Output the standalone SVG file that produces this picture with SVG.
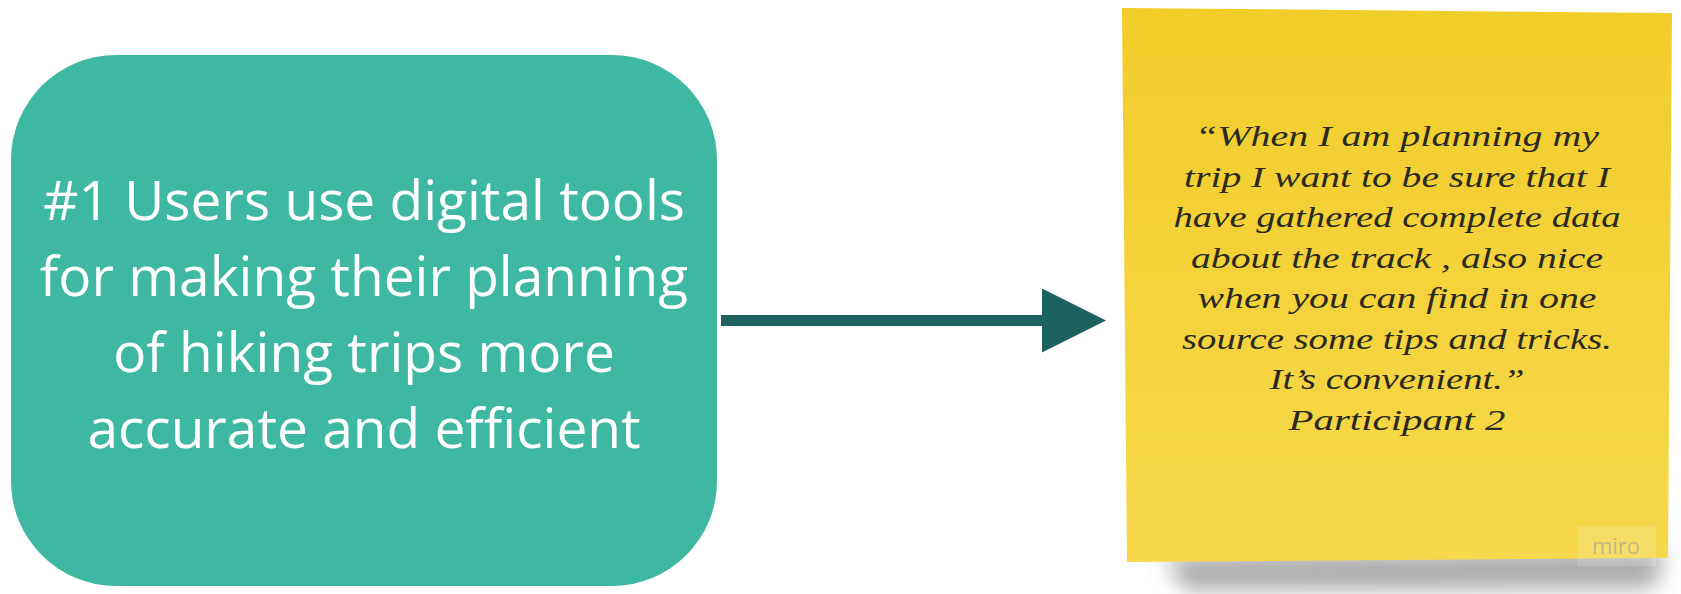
<svg xmlns="http://www.w3.org/2000/svg" width="1681" height="594" viewBox="0 0 1681 594">
<style>
.main{font-family:"Open Sans","Noto Sans",sans-serif;font-size:55px;fill:#ffffff;text-anchor:middle}
.hand{font-family:"Segoe Print","Liberation Serif",serif;font-style:italic;font-size:30px;fill:#2a2a22;text-anchor:middle}
.miro{font-family:"Open Sans","Noto Sans",sans-serif;font-size:22px;fill:#9c9c9c;fill-opacity:0.6;text-anchor:middle}
</style>
<defs>
<linearGradient id="sticky" x1="0" y1="0" x2="0" y2="1">
<stop offset="0" stop-color="#F1CD2A"/>
<stop offset="1" stop-color="#F6D84C"/>
</linearGradient>
<filter id="blur" x="-20%" y="-200%" width="140%" height="500%">
<feGaussianBlur stdDeviation="11"/>
</filter>
<marker id="head" markerUnits="userSpaceOnUse" markerWidth="64" markerHeight="64" refX="4" refY="32" orient="auto">
<path d="M0,0 L64,32 L0,64 Z" fill="#1E625F"/>
</marker>
</defs>
<g id="node-finding">
<rect x="11" y="55" width="706" height="531" rx="105" ry="105" fill="#3EB8A0"/>
<text class="main" x="364" y="220">#1 Users use digital tools</text>
<text class="main" x="364" y="296">for making their planning</text>
<text class="main" x="364" y="372">of hiking trips more</text>
<text class="main" x="364" y="448">accurate and efficient</text>
</g>
<g id="connectors">
<line x1="721" y1="320.5" x2="1046" y2="320.5" stroke="#1E625F" stroke-width="11" marker-end="url(#head)"/>
</g>
<g id="node-quote">
<path d="M1165,556 L1665,550 L1655,588 L1185,590 Z" fill="#555" opacity="0.5" filter="url(#blur)"/>
<polygon points="1122,8 1672,13 1668,558 1127,562" fill="url(#sticky)"/>
<text class="hand" x="1397" y="146" textLength="404" lengthAdjust="spacingAndGlyphs">“When I am planning my</text>
<text class="hand" x="1397" y="187" textLength="426" lengthAdjust="spacingAndGlyphs">trip I want to be sure that I</text>
<text class="hand" x="1397" y="227" textLength="447" lengthAdjust="spacingAndGlyphs">have gathered complete data</text>
<text class="hand" x="1397" y="268" textLength="412" lengthAdjust="spacingAndGlyphs">about the track , also nice</text>
<text class="hand" x="1397" y="308" textLength="399" lengthAdjust="spacingAndGlyphs">when you can find in one</text>
<text class="hand" x="1397" y="349" textLength="430" lengthAdjust="spacingAndGlyphs">source some tips and tricks.</text>
<text class="hand" x="1397" y="389" textLength="255" lengthAdjust="spacingAndGlyphs">It’s convenient.”</text>
<text class="hand" x="1397" y="430" textLength="217" lengthAdjust="spacingAndGlyphs">Participant 2</text>
<rect x="1577" y="526" width="79" height="40" fill="#ffffff" fill-opacity="0.15"/>
<text class="miro" x="1616" y="554">miro</text>
</g>
</svg>
